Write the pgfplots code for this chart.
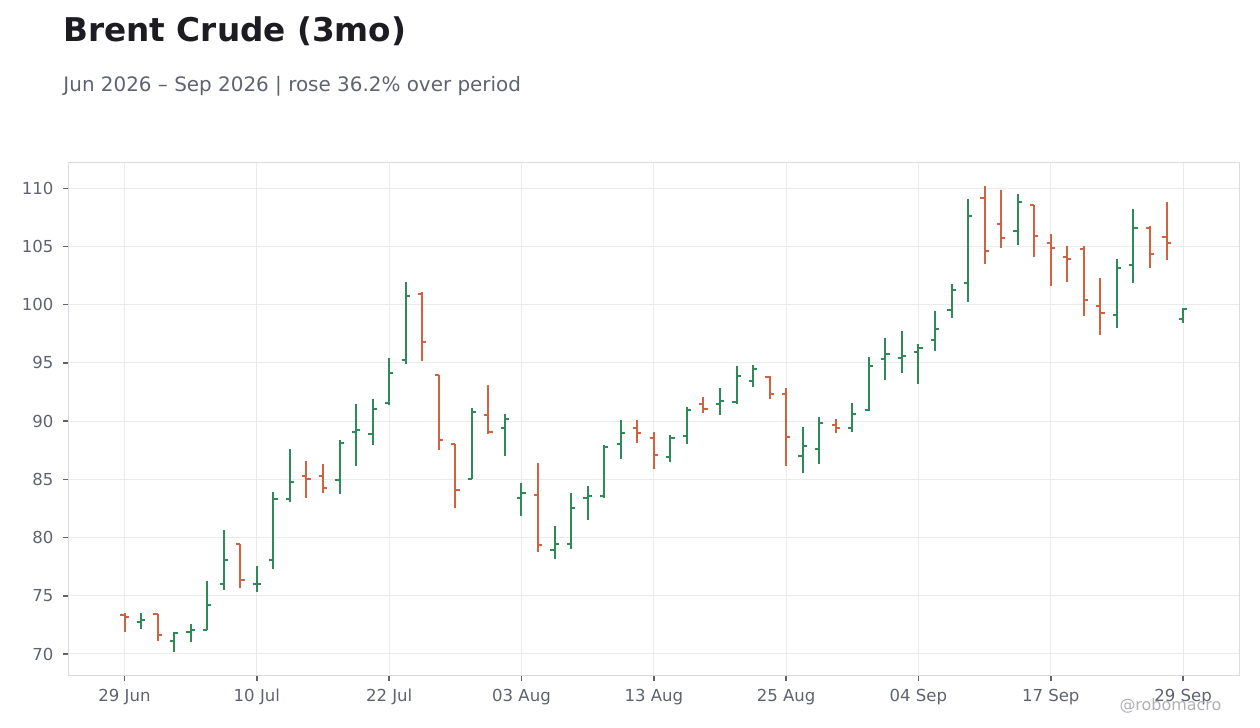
\documentclass[border=0pt]{standalone}
\usepackage{fontspec}
\setmainfont{DejaVu Sans}
\usepackage{pgfplots}
\pgfplotsset{compat=1.18}
\usepackage{pgfplotstable}

\definecolor{upc}{HTML}{2E8B57}
\definecolor{dnc}{HTML}{D0623F}
\definecolor{labc}{HTML}{5F6370}
\definecolor{gridc}{HTML}{EBEBEB}
\definecolor{framec}{HTML}{DCDCE0}
\definecolor{titlec}{HTML}{1C1C21}
\definecolor{markc}{HTML}{B0B0B4}

% open tick points left, close tick points right
\pgfdeclareplotmark{otick}{%
  \pgfpathmoveto{\pgfqpoint{-\pgfplotmarksize}{0pt}}%
  \pgfpathlineto{\pgfqpoint{0pt}{0pt}}%
  \pgfusepathqstroke}
\pgfdeclareplotmark{ctick}{%
  \pgfpathmoveto{\pgfqpoint{0pt}{0pt}}%
  \pgfpathlineto{\pgfqpoint{\pgfplotmarksize}{0pt}}%
  \pgfusepathqstroke}

% trading day index, open, high, low, close
\pgfplotstableread{
i o h l c
1 72.73 73.56 72.13 72.90
3 71.09 71.90 70.14 71.78
4 71.90 72.61 71.00 72.04
5 72.10 76.30 72.10 74.20
6 76.00 80.63 75.49 78.07
8 75.98 77.53 75.32 76.02
9 78.07 83.90 77.30 83.33
10 83.33 87.60 83.07 84.80
13 84.94 88.34 83.74 88.11
14 89.06 91.43 86.14 89.23
15 88.89 91.94 87.97 91.03
16 91.54 95.46 91.37 94.11
17 95.23 101.97 94.89 100.71
21 85.00 91.09 85.00 90.77
23 89.42 90.60 87.02 90.20
24 83.42 84.68 81.87 83.85
26 78.94 80.98 78.16 79.45
27 79.45 83.82 79.02 82.56
28 83.42 84.43 81.52 83.59
29 83.59 87.93 83.42 87.82
30 88.07 90.11 86.78 89.02
33 86.95 88.82 86.52 88.59
34 88.76 91.24 88.07 90.92
36 91.44 92.87 90.49 91.70
37 91.61 94.77 91.44 93.85
38 93.42 94.86 92.90 94.45
41 87.04 89.51 85.57 87.90
42 87.64 90.37 86.35 89.80
44 89.37 91.58 89.11 90.57
45 90.92 95.55 90.83 94.71
46 95.32 97.10 93.56 95.75
47 95.40 97.70 94.10 95.62
48 95.96 96.62 93.20 96.30
49 96.95 99.43 96.00 97.90
50 99.54 101.75 98.85 101.26
51 101.87 109.08 100.23 107.64
54 106.35 109.51 105.14 108.85
60 99.11 103.91 97.99 103.16
61 103.42 108.22 101.87 106.61
64 98.76 99.71 98.42 99.63
}\up

\pgfplotstableread{
i o h l c
0 73.32 73.50 71.92 73.20
2 73.45 73.45 71.09 71.61
7 79.45 79.45 75.66 76.32
11 85.30 86.56 83.40 85.03
12 85.29 86.29 83.83 84.26
18 100.89 101.11 95.17 96.77
19 93.94 93.94 87.51 88.37
20 88.03 88.03 82.54 84.09
22 90.51 93.14 88.89 89.03
25 83.65 86.41 78.76 79.37
31 89.37 90.11 88.16 89.02
32 88.51 89.08 85.92 87.10
35 91.44 92.10 90.66 91.08
39 93.76 93.91 91.87 92.30
40 92.30 92.87 86.18 88.65
43 89.63 90.20 88.94 89.37
52 109.20 110.20 103.51 104.63
53 106.95 109.86 104.89 105.75
55 108.59 108.59 104.11 105.92
56 105.32 106.06 101.61 104.89
57 104.11 105.03 101.95 103.94
58 104.80 105.03 99.02 100.40
59 99.89 102.27 97.39 99.28
62 106.61 106.72 103.16 104.37
63 105.83 108.82 103.85 105.32
}\dn

\begin{document}
\begin{tikzpicture}
\useasboundingbox (-34.15bp,-26.35bp) rectangle (595.85bp,337.65bp);
\begin{axis}[
    scale only axis,
    width=585.5bp, height=256.5bp,
    xmin=-3.4, xmax=67.4,
    ymin=68.17, ymax=112.23,
    xtick={0,8,16,24,32,40,48,56,64},
    xticklabels={29 Jun,10 Jul,22 Jul,03 Aug,13 Aug,25 Aug,04 Sep,17 Sep,29 Sep},
    ytick={70,75,...,110},
    grid=major,
    major grid style={gridc, line width=0.5bp},
    axis line style={framec, line width=0.6bp},
    tick align=outside,
    xtick pos=lower, ytick pos=left,
    major tick length=2.75bp,
    tick style={labc, line width=0.75bp},
    ticklabel style={font=\fontsize{8.3}{10}\selectfont, text=labc},
    /pgf/number format/assume math mode=true,
    yticklabel style={anchor=east, inner sep=0pt, xshift=-4.5bp},
    xticklabel style={anchor=north, inner sep=0pt, yshift=-4bp},
]
    % high-low lines
    \addplot[draw=none, mark=none, error bars/.cd, y dir=both, y explicit,
        error mark=none, error bar style={draw=upc, line width=1bp}]
        table[x=i, y expr={(\thisrow{h}+\thisrow{l})/2},
              y error expr={(\thisrow{h}-\thisrow{l})/2}] {\up};
    \addplot[draw=none, mark=none, error bars/.cd, y dir=both, y explicit,
        error mark=none, error bar style={draw=dnc, line width=1bp}]
        table[x=i, y expr={(\thisrow{h}+\thisrow{l})/2},
              y error expr={(\thisrow{h}-\thisrow{l})/2}] {\dn};
    % open and close ticks
    \addplot[only marks, mark=otick, mark size=2.1bp,
        mark options={draw=upc, line width=1bp}] table[x=i, y=o] {\up};
    \addplot[only marks, mark=ctick, mark size=2.1bp,
        mark options={draw=upc, line width=1bp}] table[x=i, y=c] {\up};
    \addplot[only marks, mark=otick, mark size=2.1bp,
        mark options={draw=dnc, line width=1bp}] table[x=i, y=o] {\dn};
    \addplot[only marks, mark=ctick, mark size=2.1bp,
        mark options={draw=dnc, line width=1bp}] table[x=i, y=c] {\dn};
\end{axis}
\node[anchor=base west, inner sep=0pt, text=titlec,
    font=\fontsize{16.4}{20}\selectfont\bfseries] at (-2.6bp,316.8bp) {Brent Crude (3mo)};
\node[anchor=base west, inner sep=0pt, text=labc,
    font=\fontsize{10}{12}\selectfont] at (-2.6bp,291.8bp) {Jun 2026 – Sep 2026 | rose 36.2\% over period};
\node[anchor=base east, inner sep=0pt, text=markc,
    font=\fontsize{8}{10}\selectfont] at (576.7bp,-17.35bp) {@robomacro};
\end{tikzpicture}
\end{document}
